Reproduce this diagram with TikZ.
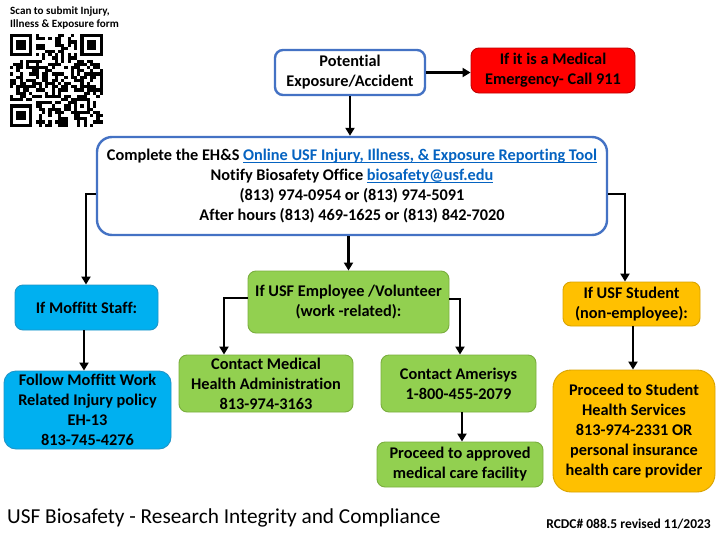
\documentclass[tikz,border=0pt]{standalone}
\usepackage{fontspec}
\setmainfont{Carlito}[Ligatures=NoCommon]
\usetikzlibrary{arrows.meta,calc}
\definecolor{bordblue}{HTML}{4472C4}
\definecolor{linkblue}{HTML}{0563C1}
\definecolor{emgred}{HTML}{FF0000}
\definecolor{emgbord}{HTML}{C00000}
\definecolor{greenfill}{HTML}{92D050}
\definecolor{greenbord}{HTML}{7AAE3E}
\definecolor{cyanfill}{HTML}{00B0F0}
\definecolor{cyanbord}{HTML}{1F95C8}
\definecolor{orangefill}{HTML}{FFC000}
\definecolor{orangebord}{HTML}{D9A300}
\newsavebox{\lnkbox}
\newcommand{\lnk}[1]{\textcolor{linkblue}{\sbox{\lnkbox}{#1}\rlap{\rule[-2.4pt]{\wd\lnkbox}{0.9pt}}\usebox{\lnkbox}}}
\begin{document}
\begin{tikzpicture}[x=1pt,y=-1pt,
  box/.style={rounded corners=8pt, align=center, inner sep=0pt,
    font=\bfseries\fontsize{16.3}{20}\selectfont},
  wbox/.style={box, draw=bordblue, line width=2.4pt, fill=white},
  gbox/.style={box, draw=greenbord, line width=0.9pt, fill=greenfill},
  cbox/.style={box, draw=cyanbord, line width=0.9pt, fill=cyanfill},
  obox/.style={box, draw=orangebord, line width=0.9pt, fill=orangefill},
  rbox/.style={box, draw=emgbord, line width=0.9pt, fill=emgred},
  arr/.style={line width=2.2pt, -{Triangle[width=9pt,length=8pt]}},
  qrm/.style={fill=black}
]
\useasboundingbox[fill=white] (0,0) rectangle (720,536);

% QR code
\def\qm{3.2}
\begin{scope}[shift={(10,34)}]
  \pgfmathsetseed{11}
  \foreach \i in {0,...,28}{
    \foreach \j in {0,...,28}{
      \pgfmathtruncatemacro\inf{((\i<8)&&(\j<8))||((\i>20)&&(\j<8))||((\i<8)&&(\j>20))||((\i>19)&&(\i<25)&&(\j>19)&&(\j<25))}
      \pgfmathtruncatemacro\tim{((\i==6)||(\j==6))}
      \ifnum\inf=0
        \ifnum\tim=1
          \pgfmathtruncatemacro\on{mod(\i+\j,2)==0}
        \else
          \pgfmathtruncatemacro\on{rnd<0.5}
        \fi
        \ifnum\on=1
          \fill[qrm] (\i*\qm,\j*\qm) rectangle ({(\i+1)*\qm+0.05},{(\j+1)*\qm+0.05});
        \fi
      \fi
    }
  }
  \foreach \a/\b in {0/0,22/0,0/22}{
    \fill[qrm] (\a*\qm,\b*\qm) rectangle ({(\a+7)*\qm},{(\b+7)*\qm});
    \fill[white] ({(\a+1)*\qm},{(\b+1)*\qm}) rectangle ({(\a+6)*\qm},{(\b+6)*\qm});
    \fill[qrm] ({(\a+2)*\qm},{(\b+2)*\qm}) rectangle ({(\a+5)*\qm},{(\b+5)*\qm});
  }
  \fill[qrm] (20*\qm,20*\qm) rectangle (25*\qm,25*\qm);
  \fill[white] (21*\qm,21*\qm) rectangle (24*\qm,24*\qm);
  \fill[qrm] (22*\qm,22*\qm) rectangle (23*\qm,23*\qm);
\end{scope}
\node[anchor=base west, inner sep=0pt, font=\bfseries\fontsize{11.1}{12}\selectfont] (qr1) at (10,14) {Scan to submit Injury,};
\node[anchor=base west, inner sep=0pt, font=\bfseries\fontsize{11.1}{12}\selectfont] (qr2) at (10,27) {Illness \& Exposure form};

% boxes
\node[wbox, minimum width=150pt, minimum height=45pt] (pot) at (350,72.5) {Potential\\Exposure/Accident};
\node[rbox, minimum width=164pt, minimum height=45pt] (emg) at (553,70.5) {If it is a Medical\\Emergency- Call 911};
\node[wbox, rounded corners=15pt, minimum width=510pt, minimum height=98pt] (main) at (352,186)
  {Complete the EH\&S \lnk{Online USF Injury, Illness, \& Exposure Reporting Tool}\\
   Notify Biosafety Office \lnk{biosafety@usf.edu}\\
   (813) 974-0954 or (813) 974-5091\\
   After hours (813) 469-1625 or (813) 842-7020};
\node[cbox, minimum width=143pt, minimum height=45pt] (mof) at (86.5,307.5) {If Moffitt Staff:};
\node[cbox, rounded corners=12pt, minimum width=167pt, minimum height=78pt] (mof2) at (87.5,410)
  {Follow Moffitt Work\\Related Injury policy\\EH-13\\813-745-4276};
\node[gbox, minimum width=201pt, minimum height=62pt] (emp) at (348.5,302) {If USF Employee /Volunteer\\(work -related):};
\node[gbox, minimum width=174pt, minimum height=57pt] (cmh) at (266,383.5) {Contact Medical\\Health Administration\\813-974-3163};
\node[gbox, minimum width=155pt, minimum height=57pt] (ame) at (458.5,383.5) {Contact Amerisys\\1-800-455-2079};
\node[gbox, minimum width=166pt, minimum height=45pt] (prc) at (460,464.5) {Proceed to approved\\medical care facility};
\node[obox, minimum width=137pt, minimum height=44pt] (stu) at (631.5,304) {If USF Student\\(non-employee):};
\node[obox, rounded corners=18pt, minimum width=162pt, minimum height=122pt] (shs) at (634,431)
  {Proceed to Student\\Health Services\\813-974-2331 OR\\personal insurance\\health care provider};

% connectors
\draw[arr] (pot.east) -- (pot.east -| emg.west);
\draw[arr] (pot.south) -- (pot.south |- main.north);
\draw[arr] ([yshift=-8pt]main.west) -| ([xshift=-0.5pt]mof.north);
\draw[arr] ([yshift=-8pt]main.east) -| ([xshift=-6.5pt]stu.north);
\draw[arr] (main.south -| emp.north) -- (emp.north);
\draw[arr] ([xshift=-2.5pt]mof.south) -- ([xshift=-2.5pt]mof.south |- mof2.north);
\draw[arr] ([yshift=4pt]emp.west) -| ([xshift=-42pt]cmh.north);
\draw[arr] ([yshift=3pt]emp.east) -| ([xshift=1.5pt]ame.north);
\draw[arr] ([xshift=3.5pt]ame.south) -- ([xshift=3.5pt]ame.south |- prc.north);
\draw[arr] ([xshift=1.5pt]stu.south) -- ([xshift=1.5pt]stu.south |- shs.north);

% footer
\node[anchor=base west, inner sep=0pt, font=\fontsize{21.3}{24}\selectfont] (title) at (7,523) {USF Biosafety - Research Integrity and Compliance};
\node[anchor=base east, inner sep=0pt, font=\bfseries\fontsize{13.5}{15}\selectfont] (rcdc) at (711,528) {RCDC\# 088.5 revised 11/2023};
\end{tikzpicture}
\end{document}
